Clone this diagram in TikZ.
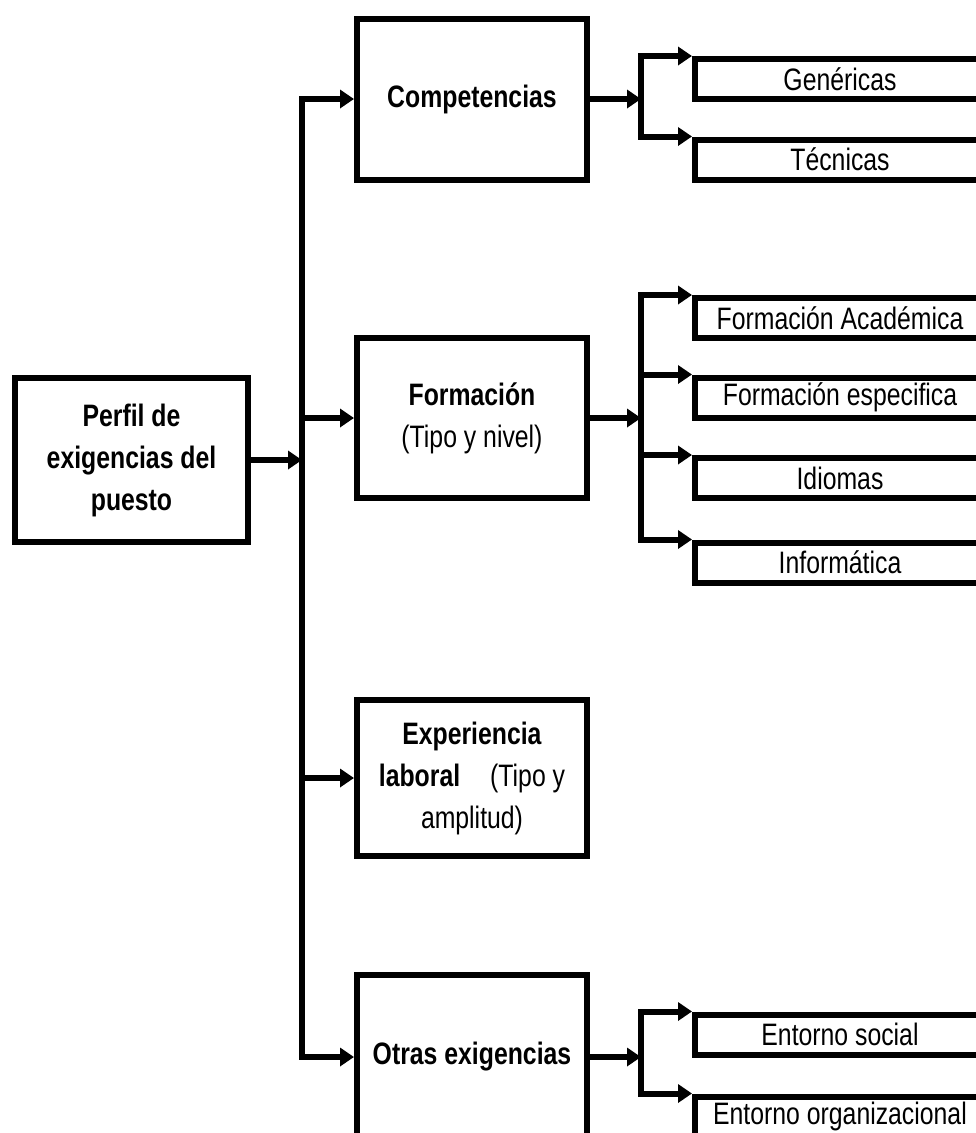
\documentclass[tikz,border=0pt]{standalone}
\usepackage{fontspec}
\setmainfont[FakeStretch=0.8]{Liberation Sans}
\usetikzlibrary{arrows.meta}
\begin{document}
\begin{tikzpicture}[x=1pt,y=-1pt,
  every node/.style={font=\fontsize{31pt}{42pt}\selectfont, align=center, inner sep=0pt},
  mainbox/.style={draw, line width=6pt, minimum width=230pt, minimum height=160pt},
  subbox/.style={draw, line width=6pt, minimum width=290pt, minimum height=40pt},
  link/.style={line width=6pt, line cap=rect},
  feed/.style={line width=6pt, -{Triangle[length=14pt,width=18pt]}},
]
\useasboundingbox (0,0) rectangle (976,1133);
\clip (0,0) rectangle (976,1133);

% x positions of the main bus and of the branch buses
\coordinate (bus) at (302,0);
\coordinate (cbx) at (641,0);

% root
\node[mainbox, minimum width=233pt, minimum height=164pt] (perfil) at (131.5,460)
  {\textbf{Perfil de}\\\textbf{exigencias del}\\\textbf{puesto}};

% second level
\node[mainbox, minimum height=161pt] (comp) at (472,99) {\textbf{Competencias}};
\node[mainbox] (form) at (472,418) {\textbf{Formación}\\(Tipo y nivel)};
\node[mainbox, minimum height=156pt] (exper) at (472,778)
  {\textbf{Experiencia}\\\textbf{laboral}\hspace{30pt}(Tipo y\\amplitud)};
\node[mainbox, minimum height=164pt] (otras) at (472,1057) {\textbf{Otras exigencias}};

% third level
\node[subbox] (gen) at (840,79)  {Genéricas};
\node[subbox] (tec) at (840,159.5) {Técnicas};
\node[subbox] (fa)  at (840,318) {Formación Académica};
\node[subbox] (fe)  at (840,397.5) {Formación especifica};
\node[subbox] (idi) at (840,478) {Idiomas};
\node[subbox] (inf) at (840,562.5) {Informática};
\node[subbox] (es)  at (840,1034.5) {Entorno social};
\node[subbox] (eo)  at (840,1116.5) {Entorno organizacional};

% root to main bus
\draw[feed] (perfil.east) -- (perfil.east -| bus);
\draw[link] (comp.west -| bus) -- (otras.west -| bus);
\foreach \n in {comp,form,exper,otras}
  \draw[feed] (\n.west -| bus) -- (\n.west);

% branches
\draw[feed] (comp.east) -- (comp.east -| cbx);
\draw[link] (gen.north west -| cbx) -- (tec.north west -| cbx);
\foreach \n in {gen,tec}
  \draw[feed] (\n.north west -| cbx) -- (\n.north west);

\draw[feed] (form.east) -- (form.east -| cbx);
\draw[link] (fa.north west -| cbx) -- (inf.north west -| cbx);
\foreach \n in {fa,fe,idi,inf}
  \draw[feed] (\n.north west -| cbx) -- (\n.north west);

\draw[feed] (otras.east) -- (otras.east -| cbx);
\draw[link] (es.north west -| cbx) -- (eo.north west -| cbx);
\foreach \n in {es,eo}
  \draw[feed] (\n.north west -| cbx) -- (\n.north west);
\end{tikzpicture}
\end{document}
